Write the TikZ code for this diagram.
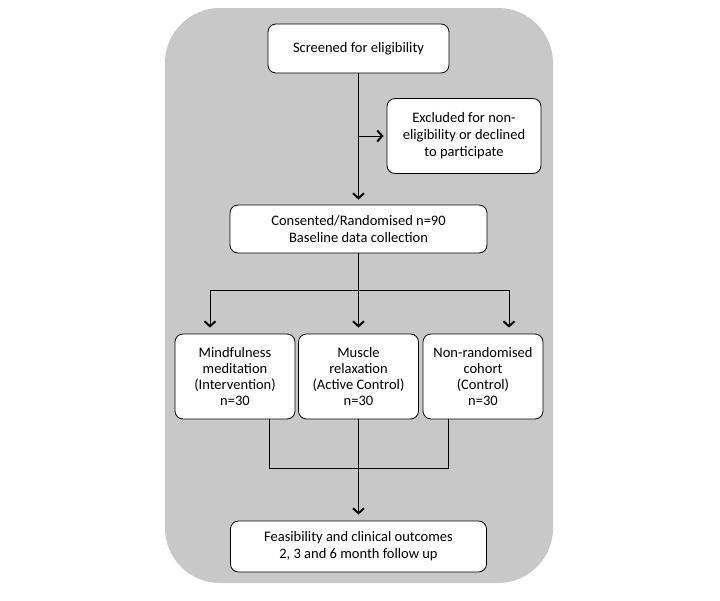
\documentclass[tikz,border=0pt]{standalone}
\usepackage{fontspec}
\setmainfont{Carlito}
\usetikzlibrary{arrows.meta,positioning}
\definecolor{panelgray}{RGB}{200,200,200}
\tikzset{%
  box/.style={draw=black, fill=white, rounded corners=8pt, align=center,
    inner sep=0pt, line width=0.8pt, font=\fontsize{14.5}{17}\selectfont},
  arm/.style={box, minimum width=120pt, minimum height=85pt, font=\fontsize{14.5}{16}\selectfont},
  flow/.style={-{Straight Barb[length=5pt,width=11pt,line width=2pt]}, line width=0.8pt}
}

\begin{document}
\begin{tikzpicture}[x=1pt,y=-1pt]
    \useasboundingbox (0,0) rectangle (720,600);
    \fill[panelgray, rounded corners=55pt] (165,8) rectangle (553,583);

      \node[box, minimum width=181pt, minimum height=49pt] (screen) at (358.5,48.5) {Screened for eligibility};
      \node[box, minimum width=154pt, minimum height=75pt] (excl) at (464,136) {Excluded for non-\\eligibility or declined\\to participate};
      \node[box, minimum width=257pt, minimum height=48pt] (consent) at (358.5,229) {Consented/Randomised n=90\\Baseline data collection};
      \node[arm] (mind) at (235,376.5) {Mindfulness\\meditation\\(Intervention)\\n=30};
      \node[arm] (muscle) at (358.5,376.5) {Muscle\\relaxation\\(Active Control)\\n=30};
      \node[arm] (nonrand) at (483,376.5) {Non-randomised\\cohort\\(Control)\\n=30};
      \node[box, minimum width=256pt, minimum height=51pt] (final) at (358.5,546.5) {Feasibility and clinical outcomes\\2, 3 and 6 month follow up};

      \coordinate (fork) at (358.5,290);
      \coordinate (forkL) at (210,290);
      \coordinate (forkR) at (509,290);
      \coordinate (mergeL) at (269,468);
      \coordinate (mergeR) at (448,468);

      \draw[flow, shorten >=5pt] (screen) -- (consent);
      \draw[flow, shorten >=3pt] (screen.south |- excl.west) -- (excl.west);
      \draw[line width=0.8pt] (consent) -- (fork);
      \draw[line width=0.8pt] (forkL) -- (forkR);
      \draw[flow, shorten >=6pt] (forkL) -- (forkL |- mind.north);
      \draw[flow, shorten >=6pt] (fork) -- (muscle);
      \draw[flow, shorten >=6pt] (forkR) -- (forkR |- nonrand.north);
      \draw[line width=0.8pt] (mind.south -| mergeL) -- (mergeL) -- (mergeR) -- (nonrand.south -| mergeR);
      \draw[flow, shorten >=6pt] (muscle) -- (final);

  \end{tikzpicture}
\end{document}
